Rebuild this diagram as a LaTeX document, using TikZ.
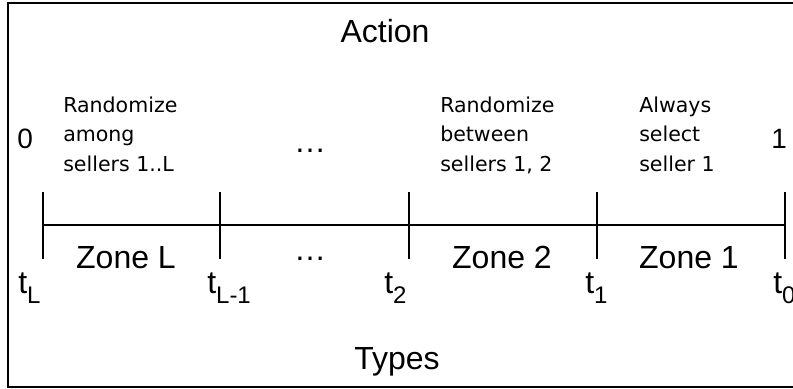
\documentclass[tikz,border=0pt]{standalone}
\usepackage{fontspec}
\setmainfont{Liberation Sans}
\newfontfamily\notefont{DejaVu Sans}
\usetikzlibrary{positioning}

\begin{document}
\begin{tikzpicture}[x=0.75pt, y=-0.75pt,
    frame/.style={line width=1.8pt},
    axis/.style={line width=1.4pt},
    heading/.style={font=\fontsize{24}{28}\selectfont, inner sep=0pt},
    zonelabel/.style={font=\fontsize{24}{28}\selectfont, anchor=base, inner sep=0pt},
    endlabel/.style={font=\fontsize{21}{25}\selectfont, anchor=base west, inner sep=0pt},
    cutlabel/.style={font=\fontsize{24}{28}\selectfont, anchor=base west, inner sep=0pt},
    note/.style={font=\notefont\fontsize{15.4}{21.8}\selectfont, align=left, anchor=north west, inner sep=0pt}]
  \useasboundingbox (0,0) rectangle (793,389);
  \draw[frame] (8,3) rectangle (812,387);

  \node[heading] (action) at (385,31) {Action};
  \node[heading] (types) at (397,362) {Types};

  \coordinate (tL) at (43,225);
  \coordinate (tL1) at (220,225);
  \coordinate (t2) at (409,225);
  \coordinate (t1) at (597,225);
  \coordinate (t0) at (785,225);
  \draw[axis] (tL) -- (t0);
  \foreach \tk in {tL,tL1,t2,t1,t0}
    \draw[axis] (\tk) ++(0,-33) -- ++(0,67);

  \node[cutlabel] (labL) at (18,293) {t\raisebox{-7.5pt}{\fontsize{18}{20}\selectfont L}};
  \node[cutlabel] (labL1) at (207,293) {t\raisebox{-7.5pt}{\fontsize{18}{20}\selectfont L-1}};
  \node[cutlabel] (lab2) at (384,293) {t\raisebox{-7.5pt}{\fontsize{18}{20}\selectfont 2}};
  \node[cutlabel] (lab1) at (585,293) {t\raisebox{-7.5pt}{\fontsize{18}{20}\selectfont 1}};
  \node[cutlabel] (lab0) at (773,293) {t\raisebox{-7.5pt}{\fontsize{18}{20}\selectfont 0}};

  \node[zonelabel] (zoneL) at (126,268) {Zone L};
  \node[zonelabel] (zonedots) at (310,260) {…};
  \node[zonelabel] (zone2) at (502,268) {Zone 2};
  \node[zonelabel] (zone1) at (689,268) {Zone 1};

  \node[endlabel] (zero) at (17,148) {0};
  \node[endlabel] (one) at (771,148) {1};

  \node[note] (noteL) at (63,97) {Randomize\\among\\sellers 1..L};
  \node[zonelabel] (notedots) at (310,152) {…};
  \node[note] (note2) at (440,97) {Randomize\\between\\sellers 1, 2};
  \node[note] (note1) at (639,97) {Always\\select\\seller 1};
\end{tikzpicture}
\end{document}
